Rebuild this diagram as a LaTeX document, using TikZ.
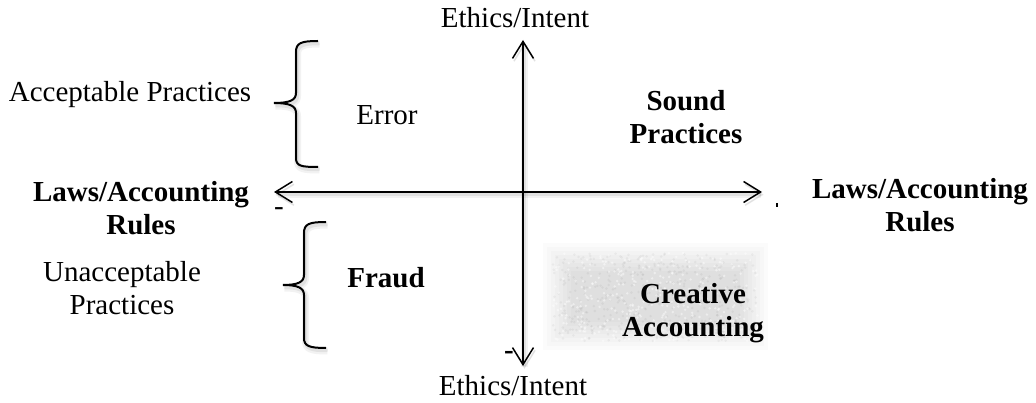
\documentclass[tikz,border=0pt]{standalone}
\usepackage{fontspec}
\setmainfont{Liberation Serif}
\usetikzlibrary{arrows.meta}
\begin{document}
\begin{tikzpicture}[x=1pt,y=-1pt,
  lbl/.style={font=\fontsize{29}{33}\selectfont, align=center, inner sep=0pt},
  bold/.style={lbl, font=\fontsize{29}{33}\selectfont\bfseries},
  barb/.tip={Straight Barb[length=17pt,width=21pt,line width=1.5pt]},
  shadowed/.style={
    preaction={draw=black, opacity=0.05, line width=7pt,
      transform canvas={shift={(1.5pt,-3pt)}}},
    preaction={draw=black, opacity=0.07, line width=3.5pt,
      transform canvas={shift={(1.5pt,-2.5pt)}}}},
  axis/.style={shadowed, line width=1.5pt, barb-barb},
  brace/.style={shadowed, line width=2pt}]
\useasboundingbox (0,0) rectangle (1036,403);

% soft grey field behind the lower-right quadrant label
\foreach \i in {0,...,7}
  \fill[black, opacity=0.014] (543+\i*4,243+\i*4) rectangle (768-\i*4,350-\i*4);
\pgfmathsetseed{7}
\foreach \k in {1,...,450} {
  \pgfmathsetmacro\px{553+rnd*205}
  \pgfmathsetmacro\py{253+rnd*88}
  \fill[black, opacity=0.045] (\px,\py) circle (1.4pt);
}
\foreach \k in {1,...,350} {
  \pgfmathsetmacro\px{553+rnd*205}
  \pgfmathsetmacro\py{253+rnd*88}
  \fill[white, opacity=0.45] (\px,\py) circle (1.3pt);
}

% axes
\coordinate (L) at (274,192);
\coordinate (R) at (762,192);
\coordinate (T) at (523,40);
\coordinate (B) at (523,366);
\draw[axis] (L) -- (R);
\draw[axis] (B) -- (T);

% braces
\draw[brace] (318,41) .. controls (301,41) and (296,43) .. (296,52) -- (296,93)
  .. controls (296,100) and (290,103) .. (274,103)
  .. controls (290,103) and (296,106) .. (296,113) -- (296,158)
  .. controls (296,166) and (301,167) .. (318,167);
\draw[brace] (326,222) .. controls (309,222) and (304,224) .. (304,233) -- (304,275)
  .. controls (304,282) and (298,285) .. (283,285)
  .. controls (298,285) and (304,288) .. (304,295) -- (304,338)
  .. controls (304,346) and (309,348) .. (326,348);

% axis labels
\node[lbl] (top) at (515,18) {Ethics/Intent};
\node[lbl] (bottom) at (513,386) {Ethics/Intent};
\node[bold] (lawsL) at (141,208) {Laws/Accounting\\Rules};
\node[bold] (lawsR) at (920,205) {Laws/Accounting\\Rules};

% quadrant labels
\node[lbl] (acc) at (130,95) {Acceptable Practices};
\node[lbl] (unacc) at (122,288) {Unacceptable\\Practices};
\node[lbl] (error) at (387,115) {Error};
\node[bold] (fraud) at (386,278) {Fraud};
\node[bold] (sound) at (686,117) {Sound\\Practices};
\node[bold] (creative) at (693,313) {Creative\\Accounting};

% small signs near the axis ends
\node[lbl] (minusL) at (279,212) {-};
\node[bold] (minusB) at (509,355) {-};
\node[inner sep=0pt, fill=black, minimum width=1.6pt, minimum height=4pt] (tick) at (777,205) {};
\end{tikzpicture}
\end{document}
